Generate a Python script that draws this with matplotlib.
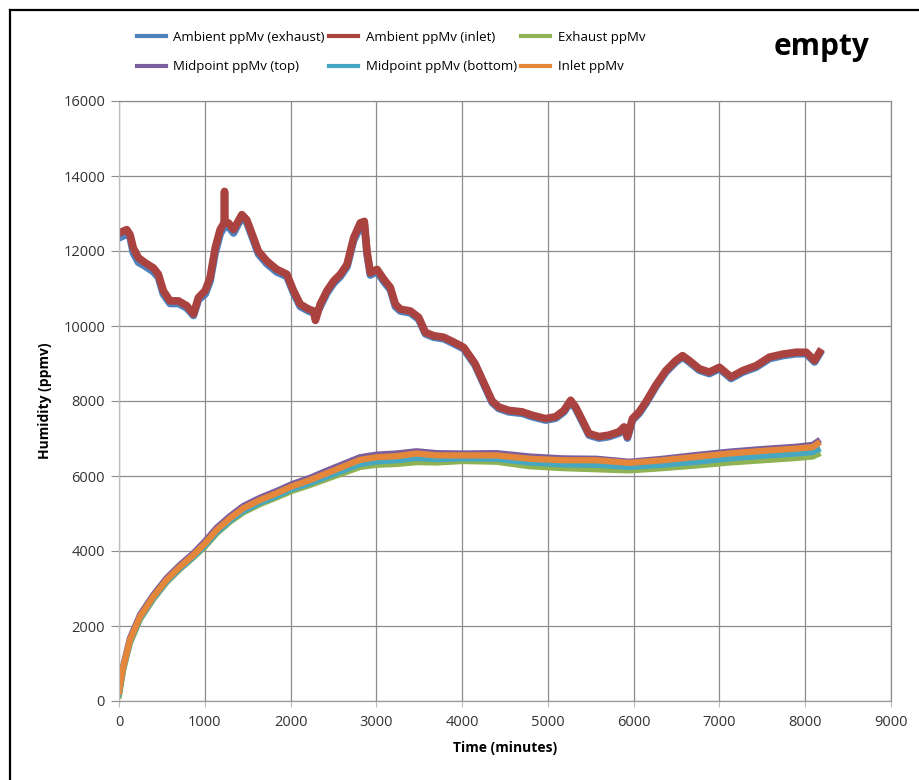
import matplotlib
matplotlib.use("Agg")
import matplotlib.pyplot as plt
from matplotlib.lines import Line2D

plt.rcParams['font.family'] = ['Open Sans', 'DejaVu Sans']

# ambient readings (minutes / ppMv)
amb_t = [0, 90, 128, 167, 226, 303, 400, 459, 517, 595, 693, 790, 868, 926, 1004,
         1062, 1121, 1179, 1225, 1230, 1236, 1276, 1335, 1432, 1490, 1568, 1626, 1724,
         1840, 1957, 2035, 2113, 2210, 2268, 2290, 2346, 2424, 2502, 2580, 2658, 2735,
         2813, 2860, 2891, 2930, 3008, 3086, 3163, 3222, 3280, 3397, 3494, 3572, 3669,
         3786, 3903, 4019, 4150, 4250, 4350, 4427, 4544, 4700, 4817, 4973, 5090, 5187,
         5265, 5323, 5401, 5479, 5596, 5713, 5830, 5888, 5927, 5986, 6064, 6141, 6258,
         6375, 6492, 6570, 6648, 6765, 6882, 7000, 7135, 7271, 7427, 7583, 7739, 7894,
         8011, 8109, 8167]
amb_inlet = [12480, 12570, 12440, 12080, 11820, 11690, 11550, 11380, 10940, 10670,
             10670, 10540, 10320, 10760, 10940, 11290, 12080, 12570, 12750, 13590,
             12750, 12750, 12570, 12970, 12830, 12350, 11990, 11730, 11510, 11380,
             10940, 10580, 10450, 10400, 10150, 10580, 10940, 11200, 11380, 11640,
             12350, 12750, 12790, 11990, 11420, 11510, 11250, 11030, 10580, 10450,
             10400, 10230, 9830, 9740, 9700, 9570, 9430, 9000, 8500, 8000,
             7840, 7750, 7710, 7620, 7530, 7580, 7750, 8020, 7840, 7490,
             7130, 7050, 7090, 7180, 7310, 7050, 7530, 7710, 7970, 8420,
             8810, 9080, 9210, 9080, 8860, 8770, 8900, 8640, 8810, 8940,
             9170, 9250, 9300, 9300, 9080, 9300]
amb_exhaust = [12350, 12450, 12380, 11950, 11700, 11600, 11450, 11300, 10850, 10600,
               10600, 10480, 10280, 10700, 10850, 11200, 11950, 12450, 12650, 12800,
               12650, 12650, 12480, 12900, 12760, 12280, 11920, 11660, 11440, 11320,
               10880, 10520, 10400, 10350, 10250, 10520, 10880, 11140, 11320, 11580,
               12280, 12650, 12700, 11930, 11360, 11450, 11190, 10970, 10520, 10400,
               10350, 10180, 9790, 9700, 9660, 9530, 9390, 8960, 8460, 7960,
               7800, 7710, 7670, 7580, 7490, 7540, 7710, 7980, 7800, 7450,
               7090, 7010, 7050, 7140, 7270, 7010, 7490, 7670, 7930, 8380,
               8770, 9040, 9170, 9040, 8820, 8730, 8860, 8600, 8770, 8900,
               9130, 9210, 9260, 9260, 9040, 9260]

# chamber readings
low_t = [0, 50, 128, 245, 400, 555, 711, 866, 1002, 1138, 1293, 1449, 1643, 1837,
         2012, 2225, 2419, 2614, 2808, 3002, 3235, 3468, 3700, 4012, 4400, 4788,
         5176, 5564, 5952, 6340, 6728, 7116, 7504, 7892, 8086, 8144]
inlet = [250, 915, 1630, 2250, 2780, 3230, 3580, 3890, 4200, 4560, 4870, 5140, 5360,
         5540, 5720, 5890, 6070, 6250, 6430, 6500, 6530, 6600, 6550, 6550, 6550, 6460,
         6420, 6420, 6350, 6420, 6510, 6600, 6670, 6730, 6770, 6860]
exhaust = [150, 850, 1550, 2180, 2720, 3170, 3520, 3830, 4120, 4470, 4780, 5030, 5250,
           5430, 5600, 5760, 5920, 6080, 6240, 6300, 6320, 6370, 6360, 6400, 6380, 6260,
           6210, 6180, 6150, 6210, 6280, 6360, 6420, 6480, 6520, 6580]
mid_top = [280, 950, 1680, 2300, 2830, 3280, 3630, 3940, 4260, 4620, 4930, 5200, 5420,
           5600, 5780, 5950, 6140, 6320, 6500, 6570, 6600, 6660, 6610, 6600, 6610, 6520,
           6470, 6460, 6380, 6460, 6560, 6650, 6720, 6780, 6830, 6920]
mid_bottom = [200, 880, 1590, 2210, 2740, 3190, 3540, 3850, 4150, 4500, 4810, 5070, 5290,
              5470, 5650, 5810, 5980, 6150, 6320, 6390, 6420, 6480, 6450, 6470, 6460, 6360,
              6310, 6300, 6240, 6300, 6380, 6470, 6540, 6600, 6640, 6700]

fig = plt.figure(figsize=(9.19, 7.80), dpi=100)
ax = fig.add_axes([119/919, 79/780, 772/919, 600/780])

l1, = ax.plot(amb_t, amb_exhaust, color='#4F81BD', lw=5.5, label='Ambient ppMv (exhaust)')
l2, = ax.plot(amb_t, amb_inlet, color='#AA4340', lw=5.5, label='Ambient ppMv (inlet)')
l3, = ax.plot(low_t, exhaust, color='#8FB252', lw=4.5, label='Exhaust ppMv')
l4, = ax.plot(low_t, mid_top, color='#7B5E9E', lw=4.5, label='Midpoint ppMv (top)')
l5, = ax.plot(low_t, mid_bottom, color='#45A7C2', lw=4.5, label='Midpoint ppMv (bottom)')
l6, = ax.plot(low_t, inlet, color='#E5873A', lw=4.5, label='Inlet ppMv')

ax.set_xlim(0, 9000)
ax.set_ylim(0, 16000)
ax.set_xticks(range(0, 9001, 1000))
ax.set_yticks(range(0, 16001, 2000))
ax.grid(color='#8c8c8c', lw=0.9)
ax.set_axisbelow(True)
for s in ax.spines.values():
    s.set_color('#8c8c8c')
    s.set_linewidth(0.9)
ax.spines['left'].set_color('#bdbdbd')
ax.spines['bottom'].set_color('#9a9a9a')
ax.tick_params(axis='y', length=6, color='#8c8c8c', pad=4, labelsize=10.5, labelcolor='#333333')
ax.tick_params(axis='x', length=4, color='#bdbdbd', pad=6, labelsize=10.5, labelcolor='#333333')

fig.text(45/919, 1 - 401/780, 'Humidity (ppmv)', rotation=90, ha='center', va='center',
         fontsize=10, fontweight='bold')
fig.text(505/919, 1 - 748/780, 'Time (minutes)', ha='center', va='center',
         fontsize=10, fontweight='bold')
fig.text(822/919, 1 - 47/780, 'empty', ha='center', va='center',
         fontsize=21.5, fontweight='bold')

handles = [l1, l4, l2, l5, l3, l6]
leg = fig.legend(handles=handles, labels=[h.get_label() for h in handles], ncol=3,
                 loc='upper left', bbox_to_anchor=(137/919, 1 - 31/780),
                 frameon=False, fontsize=9.5, handlelength=2.2, handletextpad=0.55,
                 columnspacing=0.35, labelspacing=1.25, borderpad=0, borderaxespad=0)
for h in leg.legend_handles:
    h.set_linewidth(3)

# figure frame (left and top edges only)
fig.add_artist(Line2D([10/919, 10/919], [0, 1 - 10/780], color='black', lw=1.6,
                      transform=fig.transFigure))
fig.add_artist(Line2D([10/919, 1], [1 - 10/780, 1 - 10/780], color='black', lw=1.6,
                      transform=fig.transFigure))

fig.savefig('out.png', dpi=100)
